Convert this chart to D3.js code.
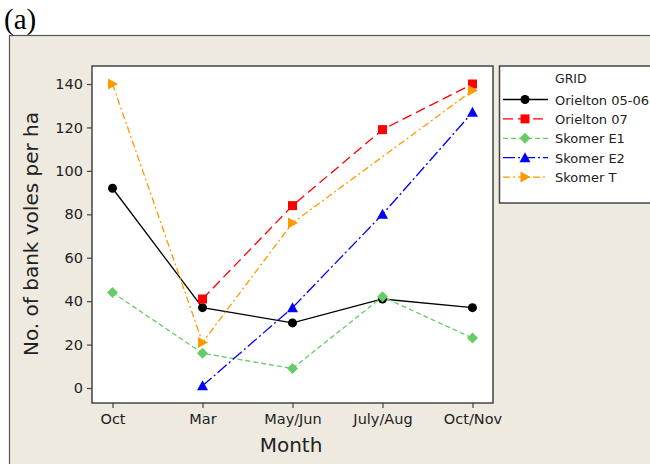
<!DOCTYPE html>
<html>
<head>
<meta charset="utf-8">
<script src="https://cdn.jsdelivr.net/npm/d3@7"></script>
<style>
  html, body { margin: 0; padding: 0; background: #ffffff; }
  svg { display: block; }
  text { font-family: "DejaVu Sans", "Open Sans", sans-serif; fill: #222; }
</style>
</head>
<body>
<svg id="chart" width="650" height="464"></svg>
<script>
// Sampling months on the x axis
const months = ["Oct", "Mar", "May/Jun", "July/Aug", "Oct/Nov"];

// Bank vole density (per ha) for each trapping grid; null = not sampled
const orielton0506 = [92, 37, 30, 41, 37];
const orielton07   = [null, 41, 84, 119, 140];
const skomerE1     = [44, 16, 9, 42, 23];
const skomerE2     = [null, 1, 37, 80, 127];
const skomerT      = [140, 21, 76, null, 137];

const yTicks = [0, 20, 40, 60, 80, 100, 120, 140];

const series = [
  { name: "Orielton 05-06", values: orielton0506, color: "#000000", dash: null,          symbol: "circle" },
  { name: "Orielton 07",    values: orielton07,   color: "#ff0000", dash: "10,5",        symbol: "square" },
  { name: "Skomer E1",      values: skomerE1,     color: "#66cc66", dash: "5,3",         symbol: "diamond" },
  { name: "Skomer E2",      values: skomerE2,     color: "#0000ff", dash: "12,3,2,3",    symbol: "triangleUp" },
  { name: "Skomer T",       values: skomerT,      color: "#ff9900", dash: "7,3,2,3",     symbol: "triangleRight" }
];

const svg = d3.select("#chart");

// Panel caption
svg.append("text")
  .attr("x", 4).attr("y", 28.5)
  .style("font-family", "'Liberation Serif', 'Times New Roman', serif")
  .style("font-size", "29px")
  .style("fill", "#000")
  .text("(a)");

// Beige graph panel
svg.append("rect")
  .attr("x", 9.5).attr("y", 35.5)
  .attr("width", 660).attr("height", 440)
  .attr("fill", "#eeeae0")
  .attr("stroke", "#555")
  .attr("stroke-width", 1.2);

// Plot region
const plot = { left: 92, right: 493, top: 66, bottom: 403 };

svg.append("rect")
  .attr("x", plot.left).attr("y", plot.top)
  .attr("width", plot.right - plot.left).attr("height", plot.bottom - plot.top)
  .attr("fill", "#ffffff")
  .attr("stroke", "#444")
  .attr("stroke-width", 1.5);

const x = d3.scalePoint()
  .domain(months)
  .range([plot.left, plot.right])
  .padding(0.228);

const y = d3.scaleLinear()
  .domain([-6.9, 148.3])
  .range([plot.bottom, plot.top]);

// Axes
const xAxis = svg.append("g")
  .attr("transform", `translate(0,${plot.bottom})`)
  .call(d3.axisBottom(x).tickSize(5).tickPadding(6));
const yAxis = svg.append("g")
  .attr("transform", `translate(${plot.left},0)`)
  .call(d3.axisLeft(y).tickValues(yTicks).tickSize(5).tickPadding(4));

[xAxis, yAxis].forEach(ax => {
  ax.select(".domain").remove();
  ax.selectAll(".tick line").attr("stroke", "#444").attr("stroke-width", 1.2);
  ax.selectAll(".tick text")
    .style("font-family", "'DejaVu Sans', 'Open Sans', sans-serif")
    .style("font-size", "14.5px")
    .attr("fill", "#222");
});

// Axis titles
svg.append("text")
  .attr("x", 291).attr("y", 452)
  .attr("text-anchor", "middle")
  .style("font-size", "20px")
  .text("Month");

svg.append("text")
  .attr("transform", "translate(38,234) rotate(-90)")
  .attr("text-anchor", "middle")
  .style("font-size", "20px")
  .text("No. of bank voles per ha");

// Marker shapes
function marker(sel, symbol, color) {
  if (symbol === "circle") {
    sel.append("circle").attr("r", 4.5).attr("fill", color);
  } else if (symbol === "square") {
    sel.append("rect").attr("x", -4.5).attr("y", -4.5).attr("width", 9).attr("height", 9).attr("fill", color);
  } else if (symbol === "diamond") {
    sel.append("path").attr("d", "M0,-5.5L5.5,0L0,5.5L-5.5,0Z").attr("fill", color);
  } else if (symbol === "triangleUp") {
    sel.append("path").attr("d", "M0,-5.5L5.5,4.5L-5.5,4.5Z").attr("fill", color);
  } else if (symbol === "triangleRight") {
    sel.append("path").attr("d", "M5.5,0L-4.5,5.5L-4.5,-5.5Z").attr("fill", color);
  }
}

// Series lines (missing months are skipped, joining the neighbours)
const plotG = svg.append("g");
series.forEach(s => {
  const pts = months.map((m, i) => ({ m, v: s.values[i] })).filter(d => d.v != null);
  const line = d3.line().x(d => x(d.m)).y(d => y(d.v));
  plotG.append("path")
    .datum(pts)
    .attr("d", line)
    .attr("fill", "none")
    .attr("stroke", s.color)
    .attr("stroke-width", 1.3)
    .attr("stroke-dasharray", s.dash);
  pts.forEach(d => {
    const g = plotG.append("g").attr("transform", `translate(${x(d.m)},${y(d.v)})`);
    marker(g, s.symbol, s.color);
  });
});

// Legend
const leg = svg.append("g");
leg.append("rect")
  .attr("x", 499.5).attr("y", 66)
  .attr("width", 170).attr("height", 137)
  .attr("fill", "#ffffff")
  .attr("stroke", "#444")
  .attr("stroke-width", 1.5);

leg.append("text")
  .attr("x", 555).attr("y", 83)
  .style("font-size", "12.5px")
  .text("GRID");

series.forEach((s, i) => {
  const cy = 99.5 + i * 19.4;
  leg.append("line")
    .attr("x1", 503).attr("x2", 548)
    .attr("y1", cy).attr("y2", cy)
    .attr("stroke", s.color)
    .attr("stroke-width", 1.3)
    .attr("stroke-dasharray", s.dash);
  const g = leg.append("g").attr("transform", `translate(525,${cy})`);
  marker(g, s.symbol, s.color);
  leg.append("text")
    .attr("x", 555).attr("y", cy + 5)
    .style("font-size", "13px")
    .text(s.name);
});
</script>
</body>
</html>
